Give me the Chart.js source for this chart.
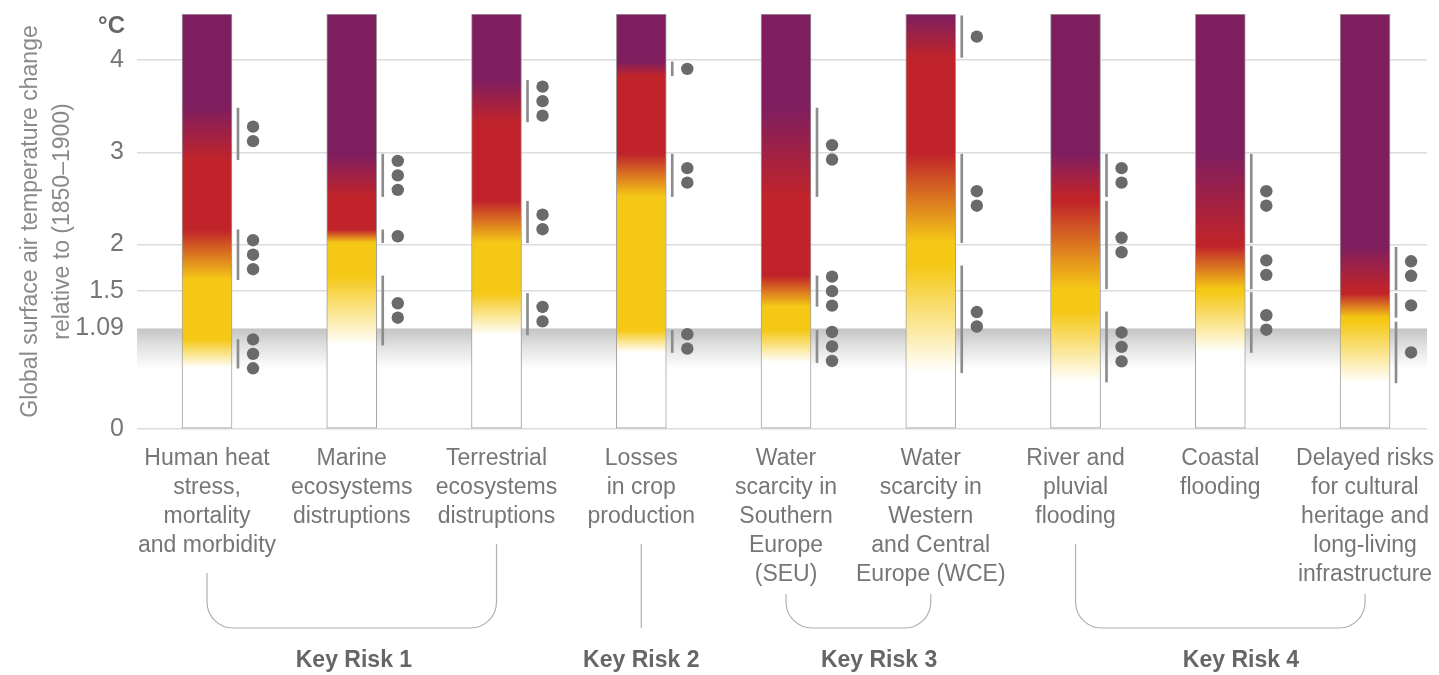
<!DOCTYPE html>
<html>
<head>
<meta charset="utf-8">
<title>Burning embers – key risks for Europe</title>
<script src="https://cdn.jsdelivr.net/npm/chart.js@4.4.1/dist/chart.umd.min.js"></script>
<style>
  html, body { margin: 0; padding: 0; background: #ffffff; }
  #wrap { width: 1439px; height: 675px; position: relative; }
</style>
</head>
<body>
<div id="wrap"><canvas id="chart"></canvas></div>
<script>
// ---- Risk categories (x tick labels, one array of lines each) ----
const categories = [
  ['Human heat', 'stress,', 'mortality', 'and morbidity'],
  ['Marine', 'ecosystems', 'distruptions'],
  ['Terrestrial', 'ecosystems', 'distruptions'],
  ['Losses', 'in crop', 'production'],
  ['Water', 'scarcity in', 'Southern', 'Europe', '(SEU)'],
  ['Water', 'scarcity in', 'Western', 'and Central', 'Europe (WCE)'],
  ['River and', 'pluvial', 'flooding'],
  ['Coastal', 'flooding'],
  ['Delayed risks', 'for cultural', 'heritage and', 'long-living', 'infrastructure']
];

// ---- Temperature axis (°C relative to 1850–1900) ----
const yTicks = [0, 1.09, 1.5, 2, 3, 4];
const emberSpan = [0, 4.5];
const observedWarming = 1.09;

// ---- Risk transitions: start / end of each transition (°C) and confidence (dots) ----
// undetectable -> moderate (white -> yellow)
const moderateFrom = [0.66, 0.91, 1.02, 0.83, 0.72, 0.61, 0.51, 0.83, 0.50];
const moderateTo   = [0.97, 1.66, 1.47, 1.07, 1.07, 1.77, 1.27, 1.48, 1.16];
const moderateConf = [3, 2, 2, 2, 3, 2, 3, 2, 1];
// moderate -> high (yellow -> red)
const highFrom = [1.62, 2.02, 2.02, 2.52, 1.33, 2.02, 1.52, 1.52, 1.21];
const highTo   = [2.16, 2.16, 2.47, 2.98, 1.66, 2.98, 2.47, 1.98, 1.47];
const highConf = [3, 1, 2, 2, 3, 2, 2, 2, 1];
// high -> very high (red -> purple)
const veryHighFrom = [2.92, 2.52, 3.33, 3.83, 2.52, 4.03, 2.52, 2.02, 1.51];
const veryHighTo   = [3.48, 2.98, 3.78, 3.98, 3.48, 4.48, 2.98, 2.98, 1.97];
const veryHighConf = [2, 3, 3, 1, 2, 1, 2, 2, 2];

// ---- Key risk groups ----
const riskNames = ['Key Risk 1', 'Key Risk 2', 'Key Risk 3', 'Key Risk 4'];
const riskFirst = [0, 3, 4, 6];
const riskLast  = [2, 3, 5, 8];

// ---- Layout / style constants ----
const FONT = '"Liberation Sans", Arial, Helvetica, sans-serif';
const X_MIN = -0.4836, X_MAX = 8.428;
const LINE_DX = 0.214;      // confidence bar offset (category units)
const DOT_DX = 0.318;       // confidence dot offset (category units)
const DOT_STEP = 0.157;     // vertical dot spacing (°C)
const BAND_FADE = 0.65;     // observed-warming shading fades out here (°C)
const riskLabelAt = [1.015, 3, 4.643, 7.143];
const TICK_PAD = 15, TICK_LINE = 29;

const COLORS = {
  white: '#ffffff',
  yellow: '#f5c816',
  red: '#c0242a',
  purple: '#7f1e5f'
};

const transitions = [
  { from: moderateFrom, to: moderateTo, conf: moderateConf },
  { from: highFrom, to: highTo, conf: highConf },
  { from: veryHighFrom, to: veryHighTo, conf: veryHighConf }
];

// Ember bars span the full temperature range
const emberData = categories.map((_, i) => ({ x: i, y: emberSpan.slice() }));

// Vertical confidence bars and dots next to each ember
const confidenceBars = [];
const confidenceDots = [];
categories.forEach((_, i) => {
  transitions.forEach(t => {
    confidenceBars.push({ x: i + LINE_DX, y: [t.from[i], t.to[i]] });
    const mid = (t.from[i] + t.to[i]) / 2;
    const n = t.conf[i];
    for (let k = 0; k < n; k++) {
      confidenceDots.push({ x: i + DOT_DX, y: mid + ((n - 1) / 2 - k) * DOT_STEP });
    }
  });
});

function emberGradient(chart, i) {
  const area = chart.chartArea;
  if (!area) return COLORS.white;
  const y = chart.scales.y;
  const lo = emberSpan[0], hi = emberSpan[1];
  const g = chart.ctx.createLinearGradient(0, y.getPixelForValue(lo), 0, y.getPixelForValue(hi));
  const f = v => Math.min(1, Math.max(0, (v - lo) / (hi - lo)));
  const stops = [
    [lo, COLORS.white],
    [moderateFrom[i], COLORS.white],
    [moderateTo[i], COLORS.yellow],
    [highFrom[i], COLORS.yellow],
    [highTo[i], COLORS.red],
    [veryHighFrom[i], COLORS.red],
    [veryHighTo[i], COLORS.purple],
    [hi, COLORS.purple]
  ];
  stops.forEach(([v, c]) => g.addColorStop(f(v), c));
  return g;
}

// Grey shading below the observed warming level
const observedBand = {
  id: 'observedBand',
  beforeDatasetsDraw(chart) {
    const { ctx, chartArea: a, scales: { y } } = chart;
    const top = y.getPixelForValue(observedWarming);
    const bottom = y.getPixelForValue(BAND_FADE);
    const g = ctx.createLinearGradient(0, top, 0, bottom);
    g.addColorStop(0, '#c4c4c4');
    g.addColorStop(0.45, '#e2e2e2');
    g.addColorStop(1, '#ffffff');
    ctx.save();
    ctx.fillStyle = g;
    ctx.fillRect(a.left, top, a.right - a.left, bottom - top);
    ctx.restore();
  }
};

// Unit label, group brackets and key-risk captions
const riskGroups = {
  id: 'riskGroups',
  afterDraw(chart) {
    const { ctx, chartArea: a, scales: { x } } = chart;
    ctx.save();

    ctx.font = 'bold 24px ' + FONT;
    ctx.fillStyle = '#666666';
    ctx.textAlign = 'right';
    ctx.textBaseline = 'alphabetic';
    ctx.fillText('°C', a.left - 12, a.top + 19);

    const labelTop = a.bottom + TICK_PAD;
    const bottomY = a.bottom + 199;
    const r = 26;
    const startY = i => Math.min(labelTop + categories[i].length * TICK_LINE + 13, bottomY - r - 8);

    ctx.strokeStyle = '#b0b0b0';
    ctx.lineWidth = 1.2;
    riskNames.forEach((name, g) => {
      const i0 = riskFirst[g], i1 = riskLast[g];
      const xl = x.getPixelForValue(i0), xr = x.getPixelForValue(i1);
      ctx.beginPath();
      if (i0 === i1) {
        ctx.moveTo(xl, startY(i0));
        ctx.lineTo(xl, bottomY);
      } else {
        ctx.moveTo(xl, startY(i0));
        ctx.lineTo(xl, bottomY - r);
        ctx.arcTo(xl, bottomY, xl + r, bottomY, r);
        ctx.lineTo(xr - r, bottomY);
        ctx.arcTo(xr, bottomY, xr, bottomY - r, r);
        ctx.lineTo(xr, startY(i1));
      }
      ctx.stroke();

      ctx.font = 'bold 23px ' + FONT;
      ctx.fillStyle = '#666666';
      ctx.textAlign = 'center';
      ctx.textBaseline = 'middle';
      ctx.fillText(name, x.getPixelForValue(riskLabelAt[g]), a.bottom + 232);
    });
    ctx.restore();
  }
};

new Chart(document.getElementById('chart'), {
  type: 'bar',
  data: {
    datasets: [
      {
        type: 'scatter',
        label: 'confidence',
        data: confidenceDots,
        pointRadius: 6.2,
        pointHoverRadius: 6.2,
        pointBackgroundColor: '#6a6a6a',
        pointBorderWidth: 0,
        showLine: false
      },
      {
        label: 'confidence range',
        data: confidenceBars,
        grouped: false,
        barThickness: 2,
        backgroundColor: '#8c8c8c',
        borderWidth: 0
      },
      {
        label: 'embers',
        data: emberData,
        grouped: false,
        barThickness: 50,
        backgroundColor: ctx => emberGradient(ctx.chart, ctx.dataIndex),
        borderColor: '#a0a0a0',
        borderWidth: 1,
        borderSkipped: false
      }
    ]
  },
  options: {
    responsive: true,
    maintainAspectRatio: false,
    animation: false,
    devicePixelRatio: 1,
    layout: { padding: { top: 14, right: 12, bottom: 0, left: 0 } },
    plugins: { legend: { display: false }, tooltip: { enabled: false } },
    scales: {
      x: {
        type: 'linear',
        min: X_MIN,
        max: X_MAX,
        offset: false,
        grid: { display: false, drawTicks: false },
        border: { display: false },
        afterBuildTicks: s => { s.ticks = categories.map((_, i) => ({ value: i })); },
        afterFit: s => { s.height = 246; s.paddingLeft = 0; s.paddingRight = 0; },
        ticks: {
          autoSkip: false,
          maxRotation: 0,
          minRotation: 0,
          padding: TICK_PAD,
          color: '#767676',
          font: { size: 23, family: FONT, lineHeight: TICK_LINE / 23 },
          callback: v => categories[v]
        }
      },
      y: {
        min: emberSpan[0],
        max: emberSpan[1],
        afterBuildTicks: s => { s.ticks = yTicks.map(v => ({ value: v })); },
        afterFit: s => { s.width = 137; s.paddingTop = 0; s.paddingBottom = 0; },
        grid: {
          drawTicks: false,
          lineWidth: 1.5,
          color: c => (c.tick && c.tick.value === observedWarming) ? 'rgba(0,0,0,0)' : '#dcdcdc'
        },
        border: { display: false },
        ticks: {
          padding: 13,
          color: '#767676',
          font: { size: 25, family: FONT, lineHeight: 1.1 },
          callback: v => String(v)
        },
        title: {
          display: true,
          text: ['Global surface air temperature change', 'relative to (1850–1900)'],
          color: '#8a8a8a',
          font: { size: 23, family: FONT, lineHeight: 1.42 },
          padding: { top: 14, bottom: 0 }
        }
      }
    }
  },
  plugins: [observedBand, riskGroups]
});
</script>
</body>
</html>
